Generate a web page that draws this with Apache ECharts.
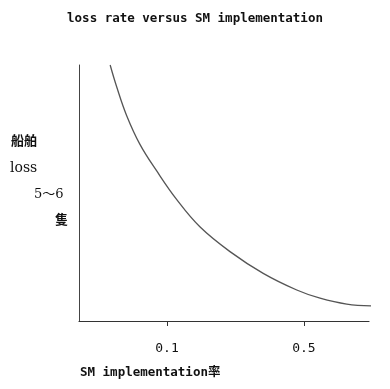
<!DOCTYPE html>
<html>
<head>
<meta charset="utf-8">
<script src="https://cdn.jsdelivr.net/npm/echarts@6/dist/echarts.min.js"></script>
<style>html,body{margin:0;padding:0;background:#fff}#c{width:390px;height:389px}</style>
</head>
<body>
<div id="c"></div>
<script>
// data (x in SM implementation units, y in relative loss units 0-100)
const curveX = [-0.066, -0.047, -0.018, 0.021, 0.070, 0.128, 0.196, 0.284, 0.381, 0.479, 0.547, 0.625, 0.702];
const curveY = [100, 91.5, 80.3, 69.0, 58.6, 47.5, 36.8, 27.1, 18.6, 12.1, 8.9, 6.6, 5.9];
const xTicks = [0.1, 0.5];
const titleText = 'loss rate versus SM implementation';
const xName = 'SM implementation率';
const yNameLines = ['船舶', 'loss', '5～6', '隻'];

const mono = '"DejaVu Sans Mono", "Noto Sans CJK JP", monospace';
const serif = '"DejaVu Serif", "Noto Sans CJK JP", serif';

const chart = echarts.init(document.getElementById('c'), null, {renderer: 'canvas'});
chart.setOption({
  backgroundColor: '#fff',
  animation: false,
  title: {
    text: titleText, left: 'center', top: 7,
    textStyle: {fontFamily: mono, fontSize: 12.5, fontWeight: 'bold', color: '#111'}
  },
  grid: {left: 79, top: 65, right: 21, bottom: 68},
  xAxis: {
    type: 'value', min: -0.157, max: 0.69,
    axisLine: {show: true, onZero: false, lineStyle: {color: '#333', width: 1.2}},
    axisTick: {show: true, length: 5, customValues: xTicks, lineStyle: {color: '#333'}},
    axisLabel: {customValues: xTicks, margin: 21, fontFamily: mono, fontSize: 13, color: '#111',
      formatter: v => v.toFixed(1)},
    splitLine: {show: false}
  },
  yAxis: {
    type: 'value', min: 0, max: 100,
    axisLine: {show: true, onZero: false, lineStyle: {color: '#444', width: 1}},
    axisTick: {show: false}, axisLabel: {show: false}, splitLine: {show: false}
  },
  series: [{
    type: 'line', data: curveX.map((x, i) => [x, curveY[i]]),
    smooth: 0.4, showSymbol: false, clip: false,
    lineStyle: {color: '#555', width: 1.3}
  }],
  graphic: [
    {type: 'text', left: 11, top: 135, style: {text: yNameLines[0], font: 'bold 13px ' + serif, fill: '#111'}},
    {type: 'text', left: 10, top: 161, style: {text: yNameLines[1], font: '14px ' + serif, fill: '#111'}},
    {type: 'text', left: 34, top: 188, style: {text: yNameLines[2], font: '13px ' + serif, fill: '#111'}},
    {type: 'text', left: 55, top: 214, style: {text: yNameLines[3], font: 'bold 13px ' + serif, fill: '#111'}},
    {type: 'text', left: 80, top: 366, style: {text: xName, font: 'bold 12.5px ' + mono, fill: '#111'}}
  ]
});
</script>
</body>
</html>
